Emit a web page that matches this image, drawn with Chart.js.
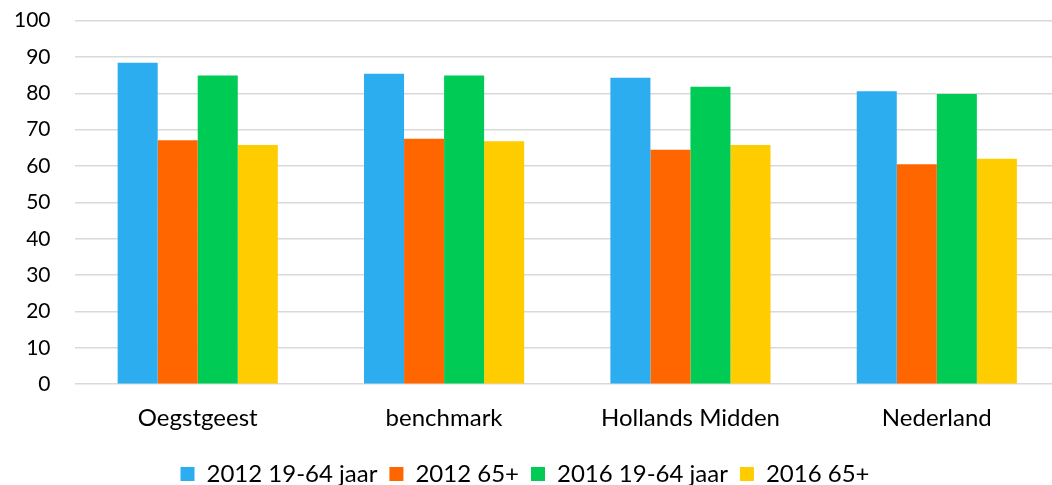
<!DOCTYPE html>
<html>
<head>
<meta charset="utf-8">
<script src="https://cdn.jsdelivr.net/npm/chart.js@4/dist/chart.umd.min.js"></script>
<style>
  html, body { margin: 0; padding: 0; background: #fff; overflow: hidden; }
  #wrap { position: relative; top: -16px; left: -10px; width: 1070px; height: 512px; }
</style>
</head>
<body>
<div id="wrap"><canvas id="chart"></canvas></div>
<script>
  const categories = ['Oegstgeest', 'benchmark', 'Hollands Midden', 'Nederland'];
  const seriesNames = ['2012 19-64 jaar', '2012 65+', '2016 19-64 jaar', '2016 65+'];
  const values2012Young = [88.4, 85.4, 84.3, 80.6];
  const values2012Old = [67.1, 67.5, 64.5, 60.5];
  const values2016Young = [84.9, 84.9, 81.8, 79.8];
  const values2016Old = [65.8, 66.8, 65.8, 62.0];
  const yTicks = [0, 10, 20, 30, 40, 50, 60, 70, 80, 90, 100];

  const colors = ['#2CADEF', '#FF6600', '#00CC55', '#FFCC00'];
  const allValues = [values2012Young, values2012Old, values2016Young, values2016Old];

  Chart.defaults.font.family = 'Lato, "Noto Sans", sans-serif';
  Chart.defaults.color = '#000';

  new Chart(document.getElementById('chart').getContext('2d'), {
    type: 'bar',
    data: {
      labels: categories,
      datasets: allValues.map((vals, i) => ({
        label: seriesNames[i],
        data: vals,
        backgroundColor: colors[i],
        borderWidth: 0,
        categoryPercentage: 0.65,
        barPercentage: 1.0
      }))
    },
    options: {
      responsive: true,
      maintainAspectRatio: false,
      animation: false,
      layout: { padding: 0 },
      plugins: {
        legend: {
          position: 'bottom',
          labels: {
            boxWidth: 14,
            boxHeight: 14,
            padding: 12,
            font: { size: 24 }
          }
        },
        tooltip: { enabled: false }
      },
      scales: {
        x: {
          grid: { display: false, drawTicks: false },
          border: { display: false },
          ticks: { font: { size: 24 }, padding: 20 },
          afterFit: scale => { scale.height -= 3; }
        },
        y: {
          min: 0,
          max: 100,
          afterBuildTicks: axis => { axis.ticks = yTicks.map(v => ({ value: v })); },
          grid: { color: '#d9d9d9', lineWidth: 1.5, drawTicks: false },
          border: { display: false },
          ticks: { font: { size: 21 }, padding: 24 }
        }
      }
    }
  });
</script>
</body>
</html>
